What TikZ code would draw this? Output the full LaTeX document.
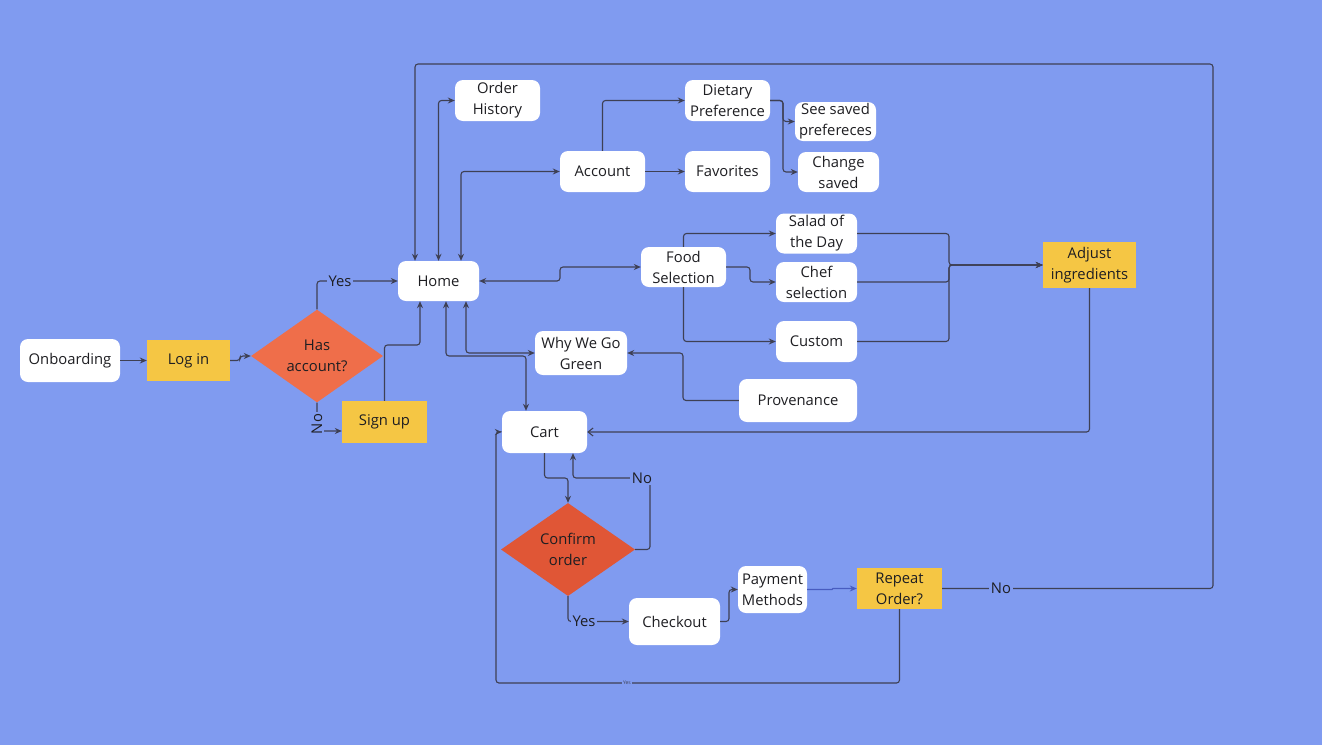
\documentclass[tikz,border=0pt]{standalone}
\usepackage{fontspec}
\setmainfont{Open Sans}
\usetikzlibrary{shapes.geometric,arrows.meta}
\definecolor{bg}{RGB}{128,155,240}
\definecolor{ln}{RGB}{62,64,84}
\definecolor{yel}{RGB}{245,198,68}
\definecolor{diaA}{RGB}{239,110,74}
\definecolor{diaB}{RGB}{224,86,54}
\definecolor{txt}{RGB}{30,30,34}
\definecolor{bln}{RGB}{72,92,192}
\begin{document}
\begin{tikzpicture}[x=1pt,y=-1pt,
  every node/.style={text=txt, font=\fontsize{14.8}{21}\selectfont, align=center, inner sep=0pt},
  box/.style={fill=white, rounded corners=8pt},
  ybox/.style={fill=yel},
  dec/.style={diamond, inner sep=0pt},
  tip/.tip={Stealth[length=7pt,width=6pt]},
  conn/.style={draw=ln, line width=1.1pt, rounded corners=3pt, -tip},
  both/.style={draw=ln, line width=1.1pt, rounded corners=3pt, tip-tip},
  lab/.style={fill=bg, inner sep=2pt}]
\fill[bg] (0,0) rectangle (1322,745);
\useasboundingbox (0,0) rectangle (1322,745);

% nodes
\node[box, minimum width=100, minimum height=43] (onb) at (70,360.5) {Onboarding};
\node[ybox, minimum width=83, minimum height=41] (login) at (188.5,360.5) {Log in};
\node[dec, fill=diaA, minimum width=132, minimum height=88] (has) at (317,356) {Has\\account?};
\node[ybox, minimum width=85, minimum height=42] (signup) at (384.5,422) {Sign up};
\node[box, minimum width=81, minimum height=40] (home) at (438.5,281) {Home};
\node[box, minimum width=85, minimum height=41] (ohist) at (497.5,100.5) {Order\\History};
\node[box, minimum width=85, minimum height=41] (account) at (602.5,171.5) {Account};
\node[box, minimum width=85, minimum height=41] (diet) at (727.5,100.5) {Dietary\\Preference};
\node[box, minimum width=81, minimum height=39] (seesaved) at (835.5,121.5) {See saved\\prefereces};
\node[box, minimum width=81, minimum height=40] (change) at (838.5,172) {Change\\saved};
\node[box, minimum width=85, minimum height=41] (fav) at (727.5,171.5) {Favorites};
\node[box, minimum width=85, minimum height=40] (food) at (683.5,267) {Food\\Selection};
\node[box, minimum width=81, minimum height=40] (salad) at (816.5,233.5) {Salad of\\the Day};
\node[box, minimum width=81, minimum height=40] (chef) at (816.5,282) {Chef\\selection};
\node[box, minimum width=81, minimum height=41] (custom) at (816.5,341.5) {Custom};
\node[ybox, minimum width=93, minimum height=46] (adjust) at (1089.5,265) {Adjust\\ingredients};
\node[box, minimum width=92, minimum height=44] (why) at (581,353) {Why We Go\\Green};
\node[box, minimum width=118, minimum height=43] (prov) at (798,400.5) {Provenance};
\node[box, minimum width=85, minimum height=42] (cart) at (544.5,432) {Cart};
\node[dec, fill=diaB, minimum width=134, minimum height=93] (conf) at (568,549.5) {Confirm\\order};
\node[box, minimum width=91, minimum height=47] (checkout) at (674.5,621.5) {Checkout};
\node[box, minimum width=69, minimum height=47] (pay) at (772.5,589.5) {Payment\\Methods};
\node[ybox, minimum width=85, minimum height=41] (repeat) at (899.5,588.5) {Repeat\\Order?};

% connectors
\draw[conn] (onb.east) -- (login.west);
\draw[conn] (login.east) -- (240,360.5) -- (240,356) -- (has.west);
\draw[conn] (has.north) |- (home.west);
\node[lab] (yes1) at (340,281) {Yes};
\draw[conn] (has.south) |- ([yshift=-9pt]signup.west);
\node[lab, rotate=90] (no1) at (317,424) {No};
\draw[conn] (signup.north) |- (420,345) -- ([xshift=-18.5pt]home.south);
\draw[conn] (repeat.east) -- (1213,588.5) -- (1213,64) -| ([xshift=-23.5pt]home.north);
\node[lab] (no3) at (1001,588.5) {No};
\draw[both] (home.north) |- (ohist.west);
\draw[both] ([xshift=22.5pt]home.north) |- (account.west);
\draw[both] (home.east) -- (560,281) -- (560,267) -- (food.west);
\draw[conn] (account.north) |- (diet.west);
\draw[conn] (account.east) -- (fav.west);
\draw[conn] (diet.east) -- (783,100.5) |- (seesaved.west);
\draw[conn] (diet.east) -- (783,100.5) |- (change.west);
\draw[conn] (food.north) |- (salad.west);
\draw[conn] (food.east) -- (750,267) |- (chef.west);
\draw[conn] (food.south) |- (custom.west);
\draw[conn] (salad.east) -| (949,265) -- (adjust.west);
\draw[conn] (chef.east) -| (949,265) -- (adjust.west);
\draw[conn] (custom.east) -| (949,265) -- (adjust.west);
\draw[draw=ln, line width=1.1pt, rounded corners=3pt, -{Straight Barb[length=5pt,width=8pt]}] (adjust.south) |- (cart.east);
\draw[both] ([xshift=7.5pt]home.south) |- (526,356) -- ([xshift=-18.5pt]cart.north);
\draw[both] ([xshift=27.5pt]home.south) |- (why.west);
\draw[conn] (prov.west) -- (683,400.5) |- (why.east);
\draw[conn] (cart.south) -- (544.5,478) -| (conf.north);
\draw[conn] (conf.east) -| (650,478) -| ([xshift=28.5pt]cart.south);
\node[lab] (no2) at (642,478) {No};
\draw[conn] (conf.south) |- (checkout.west);
\node[lab] (yes2) at (584,621.5) {Yes};
\draw[conn] (checkout.east) -- (729,621.5) |- (pay.west);
\draw[draw=bln, line width=1.1pt, -tip] (pay.east) -- (832,589.5) -- (833,588.5) -- (repeat.west);
\draw[conn] (repeat.south) |- (496,683) |- (cart.west);
\node[lab, font=\fontsize{5}{6}\selectfont, text=ln, inner sep=1pt] (yes3) at (627,683) {Yes};
\end{tikzpicture}
\end{document}
